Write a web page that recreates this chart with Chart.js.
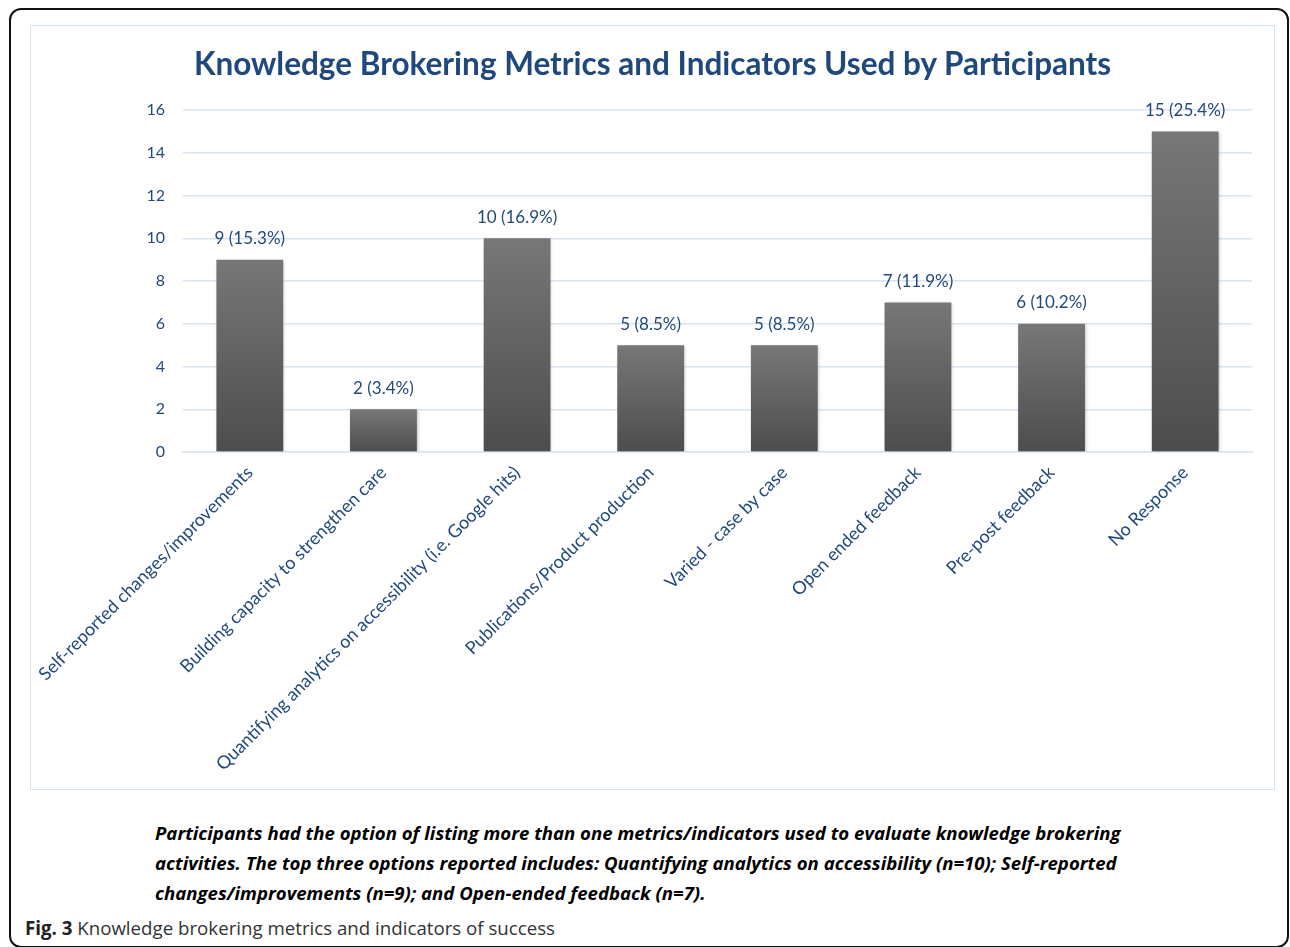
<!DOCTYPE html>
<html lang="en">
<head>
    <meta charset="UTF-8">
    <title>Knowledge Brokering Metrics</title>
    <script src="https://cdn.jsdelivr.net/npm/chart.js"></script>
    <style>
        body {
            margin: 0;
            background: #fff;
            width: 1290px;
            height: 947px;
            position: relative;
            overflow: hidden;
            font-family: Lato, 'Open Sans', sans-serif;
        }
        .frame {
            position: absolute;
            left: 9px;
            top: 8px;
            width: 1276px;
            height: 936px;
            border: 2px solid #111;
            border-radius: 12px;
        }
        .chart-box {
            position: absolute;
            left: 30px;
            top: 25px;
            width: 1243px;
            height: 763px;
            border: 1.5px solid #d5e2f1;
        }
        .chart-title {
            position: absolute;
            left: 0;
            top: 18px;
            width: 100%;
            text-align: center;
            font-family: Lato, 'Open Sans', sans-serif;
            font-weight: bold;
            font-size: 31.5px;
            color: #1f497d;
        }
        .note {
            position: absolute;
            left: 155px;
            top: 818px;
            width: 1100px;
            font-family: 'Open Sans', sans-serif;
            font-weight: bold;
            font-style: italic;
            font-size: 18.6px;
            line-height: 30px;
            color: #000;
        }
        .fig {
            position: absolute;
            left: 25px;
            top: 915px;
            font-family: 'Open Sans', sans-serif;
            font-size: 18.7px;
            color: #333;
        }
        .fig b { color: #222; }
    </style>
</head>
<body>
    <div class="frame"></div>
    <div class="chart-box">
        <canvas id="kbChart" width="1243" height="763"></canvas>
        <div class="chart-title">Knowledge Brokering Metrics and Indicators Used by Participants</div>
    </div>
    <div class="note">Participants had the option of listing more than one metrics/indicators used to evaluate knowledge brokering<br>activities. The top three options reported includes: Quantifying analytics on accessibility (n=10); Self-reported<br>changes/improvements (n=9); and Open-ended feedback (n=7).</div>
    <div class="fig"><b>Fig. 3</b> Knowledge brokering metrics and indicators of success</div>

    <script>
        const categories = [
            'Self-reported changes/improvements',
            'Building capacity to strengthen care',
            'Quantifying analytics on accessibility (i.e. Google hits)',
            'Publications/Product production',
            'Varied - case by case',
            'Open ended feedback',
            'Pre-post feedback',
            'No Response'
        ];
        const counts = [9, 2, 10, 5, 5, 7, 6, 15];
        const percents = [15.3, 3.4, 16.9, 8.5, 8.5, 11.9, 10.2, 25.4];

        const navy = '#1f497d';
        const gridBlue = '#d9e4f2';
        const fontFamily = 'Lato, "Open Sans", sans-serif';

        // gray gradient per bar, lighter at the top
        function barFill(context) {
            const chart = context.chart;
            if (!chart.chartArea || !chart.scales.y) return '#606060';
            const y = chart.scales.y;
            const top = y.getPixelForValue(context.raw);
            const bottom = y.getPixelForValue(0);
            const g = chart.ctx.createLinearGradient(0, top, 0, bottom);
            g.addColorStop(0, '#777777');
            g.addColorStop(1, '#4d4d4d');
            return g;
        }

        const valueLabels = {
            id: 'valueLabels',
            afterDatasetsDraw(chart) {
                const ctx = chart.ctx;
                const meta = chart.getDatasetMeta(0);
                ctx.save();
                ctx.font = '17px ' + fontFamily;
                ctx.fillStyle = navy;
                ctx.textAlign = 'center';
                ctx.textBaseline = 'middle';
                meta.data.forEach((bar, i) => {
                    ctx.fillText(counts[i] + ' (' + percents[i] + '%)', bar.x, bar.y - 21);
                });
                ctx.restore();
            }
        };

        const barShadow = {
            id: 'barShadow',
            beforeDatasetsDraw(chart) {
                const ctx = chart.ctx;
                ctx.save();
                ctx.shadowColor = 'rgba(0,0,0,0.25)';
                ctx.shadowBlur = 3;
                ctx.shadowOffsetX = 1;
                ctx.shadowOffsetY = 1;
            },
            afterDatasetsDraw(chart) {
                chart.ctx.restore();
            }
        };

        new Chart(document.getElementById('kbChart').getContext('2d'), {
            type: 'bar',
            data: {
                labels: categories,
                datasets: [{
                    data: counts,
                    backgroundColor: barFill,
                    borderWidth: 0,
                    categoryPercentage: 1,
                    barPercentage: 0.5
                }]
            },
            plugins: [barShadow, valueLabels],
            options: {
                responsive: false,
                animation: false,
                layout: {
                    padding: { left: 100, right: 22, top: 84, bottom: 0 }
                },
                plugins: {
                    legend: { display: false },
                    tooltip: { enabled: false }
                },
                scales: {
                    x: {
                        grid: { display: false, drawTicks: false },
                        border: { color: gridBlue, width: 1.5 },
                        ticks: {
                            color: navy,
                            font: { family: fontFamily, size: 18 },
                            autoSkip: false,
                            maxRotation: 45,
                            minRotation: 45,
                            padding: 10
                        },
                        afterFit(scale) {
                            scale.height = 337;
                            scale.paddingLeft = 0;
                            scale.paddingRight = 0;
                        }
                    },
                    y: {
                        min: 0,
                        max: 16,
                        ticks: {
                            stepSize: 2,
                            color: navy,
                            font: { family: fontFamily, size: 16 },
                            padding: 18
                        },
                        grid: { color: gridBlue, lineWidth: 1.5, drawTicks: false },
                        border: { display: false },
                        afterFit(scale) { scale.width = 52; }
                    }
                }
            }
        });
    </script>
</body>
</html>
